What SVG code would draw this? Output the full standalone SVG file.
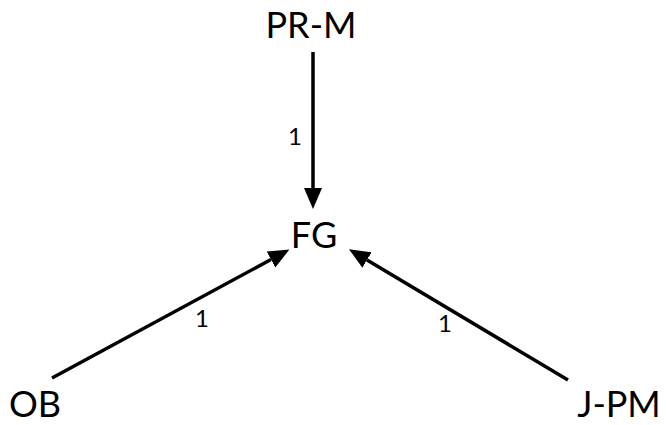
<svg xmlns="http://www.w3.org/2000/svg" width="666" height="425" viewBox="0 0 666 425">
<style>
.node{font-family:Lato,"Open Sans","Liberation Sans",sans-serif;font-size:36px;fill:#000;text-anchor:middle}
.lbl{font-family:Lato,"Open Sans","Liberation Sans",sans-serif;font-size:24px;fill:#000;text-anchor:middle}
.edge{stroke:#000;stroke-width:3.5;fill:none}
</style>
<defs>
<marker id="ah" markerUnits="userSpaceOnUse" markerWidth="21" markerHeight="19" refX="0" refY="9" orient="auto" viewBox="0 0 21 18">
<path d="M0,0 L21,9 L0,18 z" fill="#000"/>
</marker>
</defs>
<rect width="666" height="425" fill="#fff"/>
<g id="connectors">
<line class="edge" x1="313" y1="52" x2="313" y2="188" marker-end="url(#ah)"/>
<line class="edge" x1="52" y1="378" x2="271" y2="259.5" marker-end="url(#ah)"/>
<line class="edge" x1="568" y1="380" x2="367" y2="260" marker-end="url(#ah)"/>
<text class="lbl" x="295" y="145">1</text>
<text class="lbl" x="202" y="327">1</text>
<text class="lbl" x="445" y="332">1</text>
</g>
<g id="PR-M"><text class="node" x="311" y="38">PR-M</text></g>
<g id="FG"><text class="node" x="314" y="248">FG</text></g>
<g id="OB"><text class="node" x="35" y="417">OB</text></g>
<g id="J-PM"><text class="node" x="619" y="417">J-PM</text></g>
</svg>
